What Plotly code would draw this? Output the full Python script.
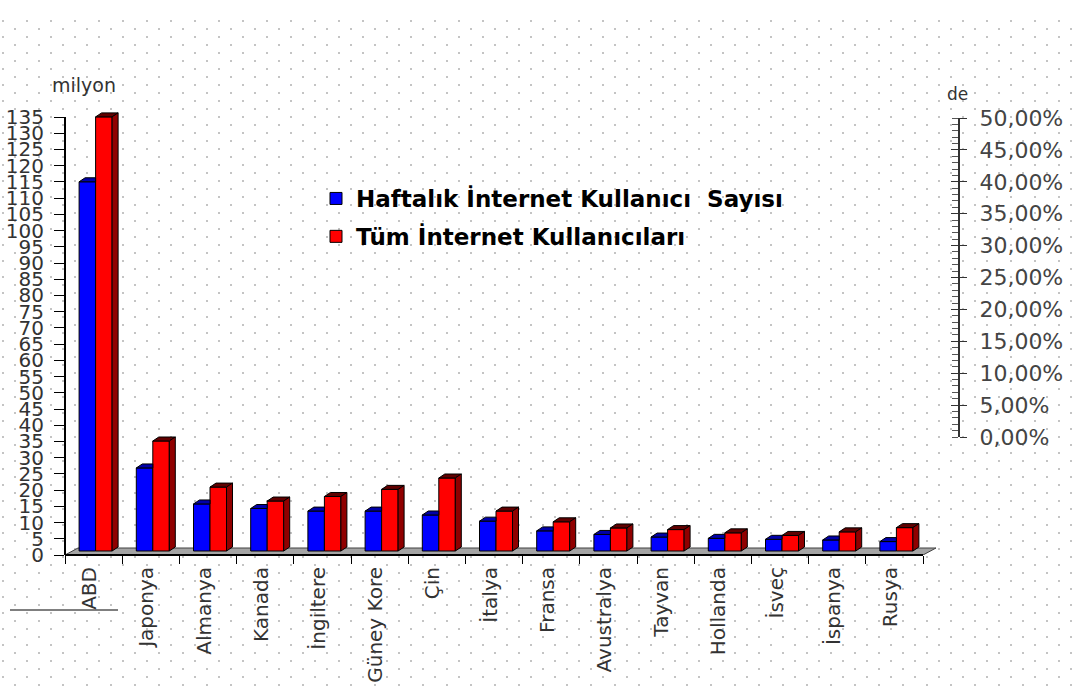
import base64
import plotly.graph_objects as go

# ---- data -------------------------------------------------------------
categories = ["ABD", "Japonya", "Almanya", "Kanada", "İngiltere", "Güney Kore",
              "Çin", "İtalya", "Fransa", "Avustralya", "Tayvan", "Hollanda",
              "İsveç", "İspanya", "Rusya"]
haftalik = [113.8, 25.6, 14.5, 13.1, 12.3, 12.3, 11.1, 9.2, 6.2, 5.1, 4.3, 3.9, 3.6, 3.4, 2.9]
tum = [133.8, 33.9, 19.7, 15.4, 16.8, 19.0, 22.5, 12.3, 9.0, 7.1, 6.6, 5.6, 4.8, 5.9, 7.2]
left_ticks = list(range(0, 136, 5))
series_names = ["Haftalık İnternet Kullanıcı\u00a0 Sayısı", "Tüm İnternet Kullanıcıları"]

# ---- geometry (figure pixels) ------------------------------------------
W, H = 1078, 688
ML, MR, MT, MB = 65, 120, 107, 133
PW, PH = W - ML - MR, H - MT - MB
PX_X = 57.2                 # pixels per category
PX_Y = 438 / 135            # pixels per million
x_max = -0.5 + PW / PX_X
y_max = PH / PX_Y

lift = 4 / PX_Y             # bars stand slightly behind the front edge
dx, dy = 6 / PX_X, 4 / PX_Y  # depth of the 3D bars
bar_w = 16.5 / PX_X
blue_off = -14.5 / PX_X
red_off = blue_off + bar_w
xs = list(range(len(categories)))

FONT = "DejaVu Sans"

fig = go.Figure()

fig.add_trace(go.Bar(x=xs, y=haftalik, base=lift, offset=blue_off, width=bar_w,
                     name=series_names[0], legendgroup="a",
                     marker=dict(color="#0000ff", line=dict(color="black", width=1))))
fig.add_trace(go.Bar(x=xs, y=tum, base=lift, offset=red_off, width=bar_w,
                     name=series_names[1], legendgroup="b",
                     marker=dict(color="#ff0000", line=dict(color="black", width=1))))


def faces(values, off, with_side):
    top_x, top_y, side_x, side_y = [], [], [], []
    for i, v in zip(xs, values):
        xl = i + off
        xr = xl + bar_w
        t = lift + v
        if with_side:
            top_x += [xl, xr, xr + dx, xl + dx, xl, None]
            side_x += [xr, xr + dx, xr + dx, xr, xr, None]
            side_y += [lift, lift + dy, t + dy, t, lift, None]
        else:
            top_x += [xl, xr, xr, xl + dx, xl, None]
        top_y += [t, t, t + dy, t + dy, t, None]
    return top_x, top_y, side_x, side_y


bx, by, _, _ = faces(haftalik, blue_off, False)
rx, ry, sx, sy = faces(tum, red_off, True)
for fx, fy, col in [(bx, by, "#0000a8"), (rx, ry, "#600000"), (sx, sy, "#900000")]:
    fig.add_trace(go.Scatter(x=fx, y=fy, mode="lines", fill="toself", fillcolor=col,
                             line=dict(color="black", width=1), showlegend=False,
                             hoverinfo="skip"))

# secondary (percentage) axis
fig.add_trace(go.Scatter(x=[], y=[], xaxis="x2", yaxis="y2", showlegend=False))
fig.add_trace(go.Scatter(x=[], y=[], xaxis="x2", yaxis="y3", showlegend=False))

# dotted page background
svg = (f'<svg xmlns="http://www.w3.org/2000/svg" width="{W}" height="{H}">'
       '<defs><pattern id="d" width="24" height="16" patternUnits="userSpaceOnUse" x="2" y="20">'
       '<rect x="0" y="0" width="2" height="2" fill="#c4c4c4"/>'
       '<rect x="12" y="8" width="2" height="2" fill="#c4c4c4"/></pattern></defs>'
       f'<rect x="0" y="18" width="{W}" height="{H - 18}" fill="url(#d)"/></svg>')
bg_src = "data:image/svg+xml;base64," + base64.b64encode(svg.encode()).decode()

# floor slab
fdx, fdy = 13 / PX_X, 7 / PX_Y
x0, x1 = -0.5, len(categories) - 0.5
floor_path = (f"M {x0},0 L {x1},0 L {x1 + fdx},{fdy} L {x0 + fdx},{fdy} Z")

p2y = lambda py: (H - MB - py) / PH  # figure pixel row -> paper y

fig.update_layout(
    width=W, height=H,
    margin=dict(l=ML, r=MR, t=MT, b=MB, autoexpand=False),
    paper_bgcolor="white", plot_bgcolor="rgba(0,0,0,0)",
    separators=",.",
    barmode="overlay",
    font=dict(family=FONT, color="#333"),
    images=[dict(source=bg_src, xref="paper", yref="paper",
                 x=-ML / PW, y=1 + MT / PH, sizex=W / PW, sizey=H / PH,
                 xanchor="left", yanchor="top", sizing="stretch", layer="below")],
    shapes=[
        dict(type="path", path=floor_path, xref="x", yref="y", layer="below",
             fillcolor="#a4a4a4", line=dict(color="#404040", width=1)),
        dict(type="line", xref="x", yref="paper", x0=x0, x1=x1, y0=0, y1=0,
             line=dict(color="black", width=2)),
        dict(type="line", xref="paper", yref="y", x0=0, x1=0, y0=0, y1=135,
             line=dict(color="black", width=2)),
        dict(type="line", xref="paper", yref="paper",
             x0=(10 - ML) / PW, x1=(118 - ML) / PW, y0=p2y(610), y1=p2y(610),
             line=dict(color="black", width=1)),
    ],
    annotations=[
        dict(text="milyon", xref="paper", yref="paper", x=(50 - ML) / PW, y=p2y(85),
             xanchor="left", yanchor="middle", showarrow=False,
             font=dict(size=19, color="#333")),
        dict(text="de", xref="paper", yref="paper", x=(945 - ML) / PW, y=p2y(94),
             xanchor="left", yanchor="middle", showarrow=False,
             font=dict(size=17, color="#333")),
    ],
    xaxis=dict(range=[-0.5, x_max], showgrid=False, zeroline=False, showline=False,
               automargin=False,
               tickmode="array", tickvals=[i - 0.07 for i in xs], ticktext=categories,
               tickangle=-90, ticks="", ticklabelstandoff=7,
               tickfont=dict(size=20, color="#333"),
               minor=dict(tickmode="array", tickvals=[i - 0.5 for i in range(len(categories) + 1)],
                          ticks="outside", ticklen=8, tickcolor="black", tickwidth=1)),
    yaxis=dict(range=[0, y_max], showgrid=False, zeroline=False, showline=False,
               automargin=False,
               tickmode="array", tickvals=left_ticks, ticks="outside", ticklen=10,
               tickcolor="black", ticklabelstandoff=6,
               tickfont=dict(size=20, color="#333")),
    xaxis2=dict(domain=[0, 1], anchor="y2", visible=False, range=[0, 1], automargin=False),
    yaxis2=dict(domain=[p2y(437), p2y(118)], anchor="x2", side="right", range=[0, 0.5],
                automargin=False,
                tickmode="linear", tick0=0, dtick=0.05, tickformat=".2%",
                ticks="outside", ticklen=7, tickcolor="#333",
                showline=True, linecolor="#333", linewidth=2,
                showgrid=False, zeroline=False, ticklabelstandoff=8,
                minor=dict(dtick=0.01, ticks="inside", ticklen=6, tickcolor="#555"),
                tickfont=dict(size=22, color="#444")),
    yaxis3=dict(overlaying="y2", anchor="x2", side="right", range=[0, 0.5],
                automargin=False,
                tickmode="linear", tick0=0, dtick=0.05, ticks="inside", ticklen=7,
                tickcolor="#333", showticklabels=False, showline=False,
                showgrid=False, zeroline=False),
    legend=dict(x=(316 - ML) / PW, y=p2y(177), xanchor="left", yanchor="top",
                bgcolor="rgba(0,0,0,0)", traceorder="grouped", tracegroupgap=5,
                font=dict(family=FONT, size=23, color="black", weight="bold")),
    showlegend=True,
)

fig.write_html("out.html")
